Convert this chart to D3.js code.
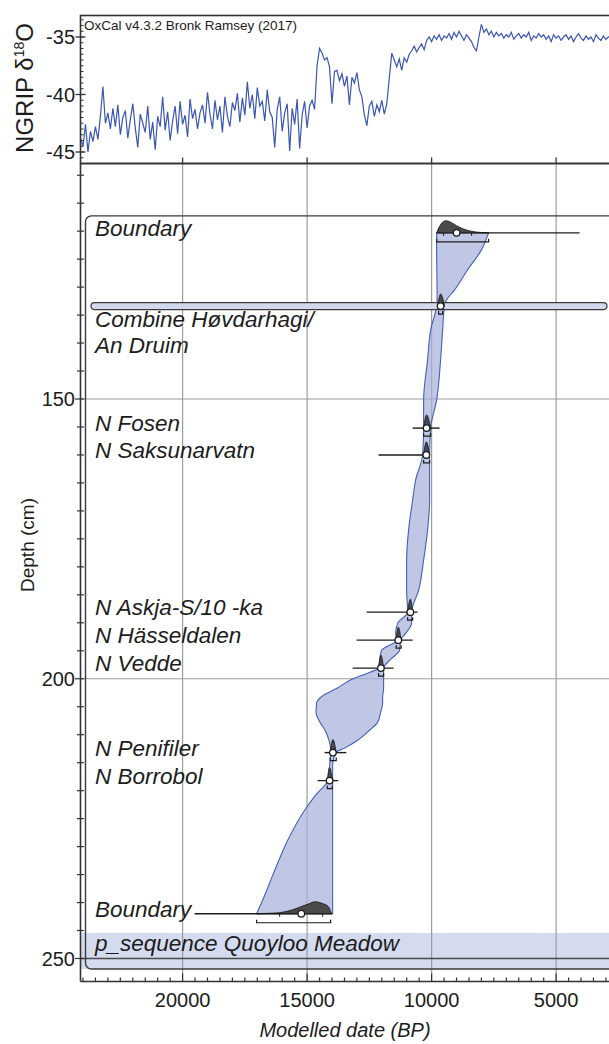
<!DOCTYPE html>
<html><head><meta charset="utf-8">
<script src="https://cdn.jsdelivr.net/npm/d3@7"></script>
<style>
html,body{margin:0;padding:0;background:#fff;}
svg{display:block;font-family:"Liberation Sans",Arial,Helvetica,sans-serif;}
</style></head><body>
<svg id="chart" width="609" height="1044"></svg>
<script>
// ---------------- DATA ----------------
// NGRIP d18O record (sampled every 100 yr from 24100 BP to 2800 BP)
const ngripStart = 24100, ngripStep = 100;
const ngripValues = [
 -43.8,-44.5,-42.6,-45.0,-43.2,-44.1,-42.8,-43.9,-41.9,
 -39.3,-42.5,
 -41.6,-43.0,-41.2,-42.8,-40.9,-43.5,-42.0,-41.4,-43.8,-42.2,-40.8,-42.9,-44.6,-41.7,-42.5,-43.3,-41.0,-43.9,-42.4,-44.8,-41.9,
 -42.8,-40.2,-43.1,-41.5,-44.0,-42.3,-41.0,-43.4,-40.6,-42.6,-41.8,-43.7,-40.4,-42.1,-41.3,-43.0,-41.6,
 -40.9,-42.5,-39.8,-41.7,-43.0,-40.5,-42.2,-41.0,-43.3,-40.2,-41.9,-42.8,-40.7,-41.4,-39.9,-42.4,
 -40.3,-41.8,-38.9,-41.2,-40.0,-42.1,-39.4,-41.0,-40.6,-42.3,-39.6,-41.5,
 -42.0,-44.6,-41.3,-40.2,-43.2,-41.6,-40.8,
 -44.9,-41.2,-42.6,-40.4,-44.7,-41.8,-40.6,-42.9,-41.0,-40.5,-41.3,
 -37.5,-36.0,-36.4,-37.0,-36.8,-37.6,-40.8,-38.0,-37.9,-38.8,-38.2,-39.3,-38.4,-40.9,-38.5,-39.0,-38.1,-39.6,-40.2,-41.8,-42.7,-41.0,-40.6,-41.9,-40.9,-41.5,-40.5,-41.7,-40.8,
 -38.6,-36.4,-37.0,-37.6,-36.9,-37.9,-36.8,-37.2,-36.5,-36.2,
 -35.8,-36.3,-35.9,-35.6,-36.1,-35.3,-35.0,-35.4,-34.9,-35.2,
 -34.8,-35.3,-34.9,-35.1,-34.7,-35.2,-34.6,-35.0,-34.5,-34.9,
 -35.3,-34.8,-35.1,-35.4,-35.9,-36.2,-35.0,-33.9,-34.6,-34.3,
 -34.8,-34.5,-35.0,-34.6,-34.9,-34.7,-35.1,-34.8,-35.0,-34.6,
 -35.2,-34.9,-34.7,-35.1,-34.8,-35.0,-34.6,-35.3,-34.9,-35.1,
 -34.7,-35.0,-34.8,-35.2,-34.9,-35.4,-34.8,-35.1,-34.9,-35.3,
 -35.0,-34.8,-35.2,-34.9,-35.4,-35.0,-34.7,-35.1,-35.3,-34.9,
 -35.2,-35.0,-35.4,-34.8,-35.1,-35.3,-34.9,-35.2,-35.0,-34.9
];

// Age-depth model 95% envelope: depth (cm), older edge, younger edge (BP)
const envDepth = [120.3,123.3,126.9,130.5,132.3,133.4,137.7,143.0,150.2,155.2,160.0,164.5,168.1,173.4,178.8,184.2,188.1,190.1,191.9,193.1,194.9,196.7,198.1,198.8,200.1,201.7,203.3,204.4,206.0,207.8,209.2,211.0,212.4,213.1,215.5,218.2,220.8,223.5,228.9,234.3,239.6,242.0];
const envOld   = [9799,9799,9790,9780,9780,9800,10040,10161,10321,10321,10362,10643,10763,10924,11004,11004,10964,11366,11446,11406,12008,12088,12129,12450,13200,13800,14450,14620,14640,14480,14280,14120,14060,14056,14096,14177,14659,15100,15783,16305,16787,17028];
const envYoung = [7711,7992,8554,9076,9400,9480,9558,9639,9799,10040,10080,10080,10080,10161,10321,10522,10803,10803,11044,11245,11285,11687,11928,11928,11928,11928,11968,11968,12048,12169,12490,12972,13494,13815,13976,13976,13976,13976,13976,13976,13976,13976];

// Dated tephra horizons
const dateLabels = ["N Fosen","N Saksunarvatn","N Askja-S/10 -ka","N Hässeldalen","N Vedde","N Penifiler","N Borrobol"];
const dateDepths = [155.2,160.0,188.1,193.1,198.1,213.2,218.2];
const dateMeans  = [10201,10213,10855,11338,12036,13964,14097];
const likeOld    = [10763,12129,12611,13012,13173,14297,14578];
const likeYoung  = [9679,10080,10562,10763,11526,13426,13747];
const postOld    = [10321,10321,10964,11426,12129,14072,14190];
const postYoung  = [10040,10080,10763,11225,11928,13831,13988];

// Combine
const combineLabel = ["Combine Høvdarhagi/","An Druim"];
const combineDepth = 133.4, combineMean = 9639;
const combinePost = [9759, 9479];
const combineRange = [9720, 9560];

// Boundaries
const boundaryLabels = ["Boundary","Boundary"];
const boundaryDepths = [120.3, 242.0];
const boundaryMeans  = [8996, 15233];
const boundaryLine   = [[9799,4056],[19518,13976]];
const boundaryRange  = [[9799,7711],[17028,14056]];
const boundaryTicks  = [[9519,8394],[16104,14378]];
const bTopPostDates = [9799,9680,9520,9420,9200,9000,8750,8450,8130,7700];
const bTopPostDens  = [0,0.55,0.95,1.0,0.85,0.6,0.35,0.15,0.05,0];
const bBotPostDates = [17028,16500,16104,15583,15233,14900,14700,14378,14150,14020];
const bBotPostDens  = [0,0.04,0.09,0.33,0.6,0.85,1.0,0.85,0.6,0];

const sequenceLabel = "p_sequence Quoyloo Meadow";
const sequenceDepth = 250;

// Axes ticks
const xMajor = [20000,15000,10000,5000];
const yMajor = [150,200,250];
const topMajor = [-35,-40,-45];

// ---------------- DRAW ----------------
const svg = d3.select("#chart");
const L = 80.5, R = 611, T1 = 15.5, B1 = 163.5, B2 = 981.5;
const ink = "#1c1c1c";

const x = d3.scaleLinear().domain([24100, 2800]).range([L, 610.9]);
const yTop = d3.scaleLinear().domain([-35, -45]).range([37, 152]);
const y = d3.scaleLinear().domain([150, 250]).range([399, 958.5]);

const defs = svg.append("defs");
defs.append("clipPath").attr("id","topclip").append("rect").attr("x",L).attr("y",T1).attr("width",R-L).attr("height",B1-T1);
defs.append("clipPath").attr("id","mainclip").append("rect").attr("x",L).attr("y",B1).attr("width",609-L).attr("height",B2-B1);

// ---- main panel background elements
const mainG = svg.append("g").attr("clip-path","url(#mainclip)");
const ySeq = y(sequenceDepth);
mainG.append("rect").attr("x",L).attr("y",ySeq-25.5).attr("width",R-L+10).attr("height",36)
  .attr("fill","#d5dbee");
mainG.append("g").selectAll("line").data(xMajor).join("line")
  .attr("x1",d=>x(d)).attr("x2",d=>x(d)).attr("y1",B1).attr("y2",B2)
  .attr("stroke","#9c9c9c").attr("stroke-width",1.2);
mainG.append("g").selectAll("line").data([150,200]).join("line")
  .attr("x1",L).attr("x2",R+10).attr("y1",d=>y(d)).attr("y2",d=>y(d))
  .attr("stroke","#9c9c9c").attr("stroke-width",1.2);
mainG.append("line").attr("x1",L).attr("x2",R+10).attr("y1",ySeq).attr("y2",ySeq)
  .attr("stroke","#4a4a4a").attr("stroke-width",1.6);

// sequence box
const yB0 = y(boundaryDepths[0]);
mainG.append("rect").attr("x",85.5).attr("y",yB0-17).attr("width",R+30-85.5).attr("height",(ySeq+10.5)-(yB0-17))
  .attr("rx",6).attr("fill","none").attr("stroke","#3a3a3a").attr("stroke-width",1.4);

// envelope
const env = envDepth.map((d,i)=>({depth:d, old:envOld[i], young:envYoung[i]}));
mainG.append("path").datum(env)
  .attr("d", d3.area().curve(d3.curveMonotoneY).y(d=>y(d.depth)).x0(d=>x(d.old)).x1(d=>x(d.young)))
  .attr("fill","#a6b1db").attr("fill-opacity",0.72);
["old","young"].forEach(k=>{
  mainG.append("path").datum(env)
    .attr("d", d3.line().curve(d3.curveMonotoneY).y(d=>y(d.depth)).x(d=>x(d[k])))
    .attr("fill","none").attr("stroke","#4360b5").attr("stroke-width",1.1);
});

// combine pill
const yC = y(combineDepth);
mainG.append("rect").attr("x",91).attr("y",yC-3.5).attr("width",607-91).attr("height",7).attr("rx",3.5)
  .attr("fill","#d3d9ec").attr("stroke","#3a3a3a").attr("stroke-width",1.2);

// helpers
function peak(g, dates, dens, yy, h){
  const pts = dates.map((d,i)=>[x(d), yy - dens[i]*h]);
  g.append("path").attr("d", d3.line().curve(d3.curveMonotoneX)(pts) + "Z")
    .attr("fill","#4a4a4a").attr("stroke","#111").attr("stroke-width",0.8);
}
function bracket(g, a, b, yy){
  g.append("path").attr("d",`M${x(a)},${yy-3}V${yy}H${x(b)}V${yy-3}`)
    .attr("fill","none").attr("stroke",ink).attr("stroke-width",1.2);
}
function dot(g, d, yy){
  g.append("circle").attr("cx",x(d)).attr("cy",yy).attr("r",3.3)
    .attr("fill","#fff").attr("stroke",ink).attr("stroke-width",1.3);
}

const marks = mainG.append("g");
dateLabels.forEach((lab,i)=>{
  const yy = y(dateDepths[i]);
  marks.append("line").attr("x1",x(likeOld[i])).attr("x2",x(likeYoung[i])).attr("y1",yy).attr("y2",yy)
    .attr("stroke",ink).attr("stroke-width",1.4);
  peak(marks,[postOld[i],dateMeans[i],postYoung[i]],[0,1,0],yy,13);
  bracket(marks,postOld[i],postYoung[i],yy+8);
  dot(marks,dateMeans[i],yy);
});
peak(marks,[combinePost[0],combineMean,combinePost[1]],[0,1,0],yC,12);
bracket(marks,combineRange[0],combineRange[1],yC+8);
dot(marks,combineMean,yC);
const bPost = [[bTopPostDates,bTopPostDens],[bBotPostDates,bBotPostDens]];
boundaryDepths.forEach((dep,i)=>{
  const yy = y(dep);
  marks.append("line").attr("x1",x(boundaryLine[i][0])).attr("x2",x(boundaryLine[i][1])).attr("y1",yy).attr("y2",yy)
    .attr("stroke",ink).attr("stroke-width",1.4);
  peak(marks,bPost[i][0],bPost[i][1],yy,12);
  boundaryTicks[i].forEach(t=>{
    marks.append("line").attr("x1",x(t)).attr("x2",x(t)).attr("y1",yy).attr("y2",yy+3).attr("stroke",ink).attr("stroke-width",1);
  });
  bracket(marks,boundaryRange[i][0],boundaryRange[i][1],yy+9);
  dot(marks,boundaryMeans[i],yy);
});

// labels
const lab = svg.append("g").attr("font-size",22.5).attr("font-style","italic").attr("fill",ink);
dateLabels.forEach((t,i)=>lab.append("text").attr("x",95).attr("y",y(dateDepths[i])+3).text(t));
boundaryLabels.forEach((t,i)=>lab.append("text").attr("x",95).attr("y",y(boundaryDepths[i])+3).text(t));
combineLabel.forEach((t,i)=>lab.append("text").attr("x",95).attr("y",yC+21+i*26).text(t));
lab.append("text").attr("x",95).attr("y",ySeq-7.5).text(sequenceLabel);

// ---- main axes
const ax = svg.append("g").attr("stroke","#333");
ax.append("line").attr("x1",L).attr("x2",L).attr("y1",B1).attr("y2",B2).attr("stroke-width",1.6);
ax.append("line").attr("x1",L).attr("x2",609).attr("y1",B2).attr("y2",B2).attr("stroke-width",1.6);
ax.append("line").attr("x1",L).attr("x2",609).attr("y1",B1).attr("y2",B1).attr("stroke-width",1.6);
ax.selectAll(".ym").data(d3.range(110,251,5)).join("line")
  .attr("x1",d=>yMajor.includes(d)?75:77).attr("x2",84).attr("y1",d=>y(d)).attr("y2",d=>y(d)).attr("stroke-width",1.2);
ax.selectAll(".xm").data(d3.range(24000,2999,-500)).join("line")
  .attr("x1",d=>x(d)).attr("x2",d=>x(d)).attr("y1",d=>d%5000===0?B2-8:B2-4).attr("y2",B2).attr("stroke-width",1.2);

const tl = svg.append("g").attr("font-size",20).attr("fill",ink);
yMajor.forEach(d=>tl.append("text").attr("x",75).attr("y",y(d)+7).attr("text-anchor","end").text(d));
xMajor.forEach(d=>tl.append("text").attr("x",x(d)).attr("y",1007).attr("text-anchor","middle").text(d));
svg.append("text").attr("x",345).attr("y",1037).attr("text-anchor","middle").attr("font-size",20)
  .attr("font-style","italic").attr("fill",ink).text("Modelled date (BP)");
svg.append("text").attr("transform","translate(34,545) rotate(-90)").attr("text-anchor","middle")
  .attr("font-size",19).attr("fill",ink).text("Depth (cm)");

// ---- top panel
const topG = svg.append("g");
const ngrip = ngripValues.map((v,i)=>[ngripStart - i*ngripStep, v]);
topG.append("path").datum(ngrip).attr("clip-path","url(#topclip)")
  .attr("d", d3.line().x(d=>x(d[0])).y(d=>yTop(d[1])))
  .attr("fill","none").attr("stroke","#3a56b0").attr("stroke-width",1.2);
topG.append("rect").attr("x",L).attr("y",T1).attr("width",R+20-L).attr("height",B1-T1)
  .attr("fill","none").attr("stroke","#333").attr("stroke-width",1.6);
topG.selectAll(".tm").data(d3.range(-33.5,-45.6,-0.5)).join("line")
  .attr("x1",L).attr("x2",L+3).attr("y1",d=>yTop(d)).attr("y2",d=>yTop(d)).attr("stroke","#333").attr("stroke-width",1);
topG.selectAll(".tM").data(topMajor).join("line")
  .attr("x1",L-5).attr("x2",L+5).attr("y1",d=>yTop(d)).attr("y2",d=>yTop(d)).attr("stroke","#333").attr("stroke-width",1.3);
topG.selectAll(".tx").data(xMajor).join("line")
  .attr("x1",d=>x(d)).attr("x2",d=>x(d)).attr("y1",B1-6).attr("y2",B1).attr("stroke","#333").attr("stroke-width",1.3);
topMajor.forEach(d=>topG.append("text").attr("x",75).attr("y",yTop(d)+7).attr("text-anchor","end")
  .attr("font-size",20).attr("fill",ink).text(d));
topG.append("text").attr("x",84).attr("y",30).attr("font-size",13.5).attr("fill",ink).text("OxCal v4.3.2 Bronk Ramsey (2017)");
const nt = topG.append("text").attr("transform","translate(33,88) rotate(-90)").attr("text-anchor","middle")
  .attr("font-size",24).attr("fill",ink);
nt.append("tspan").text("NGRIP δ");
nt.append("tspan").attr("dy",-9).attr("font-size",14).text("18");
nt.append("tspan").attr("dy",9).text("O");
</script>
</body></html>
